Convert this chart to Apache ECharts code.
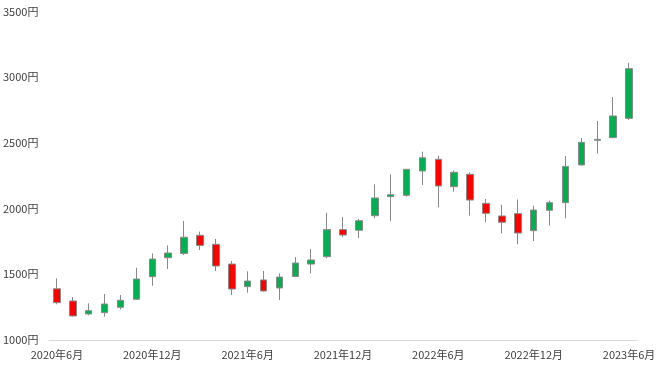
<!DOCTYPE html>
<html>
<head>
<meta charset="utf-8">
<script src="https://cdn.jsdelivr.net/npm/echarts@6/dist/echarts.min.js"></script>
<style>html,body{margin:0;padding:0;background:#fff;}#c{width:660px;height:371px;}</style>
</head>
<body>
<div id="c"></div>
<script>
const categories = [
  '2020年6月','2020年7月','2020年8月','2020年9月','2020年10月','2020年11月','2020年12月',
  '2021年1月','2021年2月','2021年3月','2021年4月','2021年5月','2021年6月','2021年7月','2021年8月','2021年9月','2021年10月','2021年11月','2021年12月',
  '2022年1月','2022年2月','2022年3月','2022年4月','2022年5月','2022年6月','2022年7月','2022年8月','2022年9月','2022年10月','2022年11月','2022年12月',
  '2023年1月','2023年2月','2023年3月','2023年4月','2023年5月','2023年6月'
];
const openValues  = [1390,1297,1198,1208,1249,1310,1482,1626,1659,1797,1728,1578,1406,1457,1396,1484,1578,1634,1840,1835,1946,2091,2101,2286,2375,2167,2261,2040,1944,1962,1832,1987,2045,2332,2520,2540,2687];
const closeValues = [1284,1183,1223,1274,1302,1464,1616,1662,1782,1720,1563,1388,1449,1373,1479,1586,1609,1840,1799,1908,2081,2106,2299,2387,2172,2276,2065,1964,1896,1814,1989,2045,2321,2504,2527,2705,3065];
const lowValues   = [1272,1178,1188,1178,1233,1308,1413,1540,1647,1685,1525,1342,1360,1368,1304,1480,1507,1621,1782,1776,1926,1906,2091,2180,2009,2129,1946,1896,1812,1728,1753,1870,1926,2330,2418,2538,2674];
const highValues  = [1469,1327,1279,1350,1342,1550,1659,1720,1906,1825,1769,1601,1523,1525,1507,1632,1693,1969,1936,1921,2185,2261,2302,2433,2403,2291,2276,2073,2030,2070,2022,2060,2400,2537,2667,2849,3110];

const candleData = categories.map((c, i) => [openValues[i], closeValues[i], lowValues[i], highValues[i]]);

const chart = echarts.init(document.getElementById('c'), null, {renderer: 'canvas'});
chart.setOption({
  animation: false,
  backgroundColor: '#ffffff',
  grid: {left: 49, right: 23, top: 11.5, bottom: 31},
  xAxis: {
    type: 'category',
    data: categories,
    boundaryGap: true,
    axisLine: {show: true, lineStyle: {color: '#d9d9d9', width: 1}},
    axisTick: {show: false},
    splitLine: {show: false},
    axisLabel: {
      interval: 5,
      margin: 9,
      color: '#404040',
      fontSize: 11,
      fontFamily: '"Noto Sans CJK JP", sans-serif'
    }
  },
  yAxis: {
    type: 'value',
    min: 1000,
    max: 3500,
    interval: 500,
    axisLine: {show: false},
    axisTick: {show: false},
    splitLine: {show: false},
    axisLabel: {
      formatter: function (v) { return String(v) + '円'; },
      align: 'left',
      margin: 46,
      color: '#404040',
      fontSize: 11,
      fontFamily: '"Noto Sans CJK JP", sans-serif'
    }
  },
  series: [{
    type: 'candlestick',
    data: candleData,
    barWidth: 7,
    itemStyle: {
      color: '#00B050',
      color0: '#FF0000',
      borderColor: '#8a8a8a',
      borderColor0: '#8a8a8a',
      borderWidth: 1
    }
  }]
});
</script>
</body>
</html>
